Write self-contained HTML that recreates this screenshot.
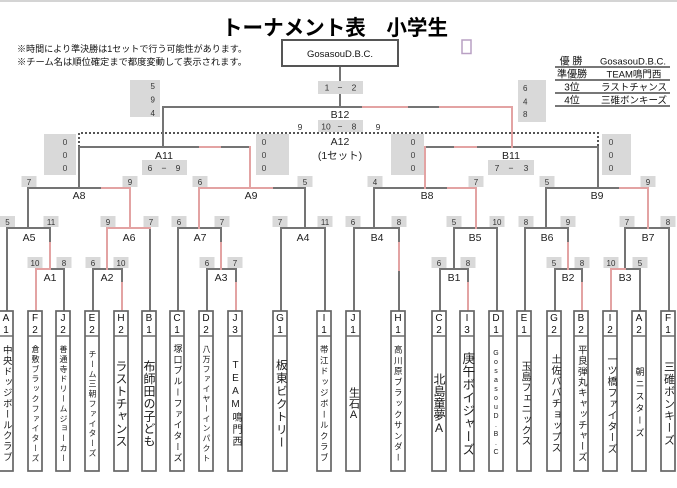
<!DOCTYPE html>
<html><head><meta charset="utf-8">
<style>
html,body{margin:0;padding:0;background:#fff;}
body{width:677px;height:488px;overflow:hidden;position:relative;font-family:"Liberation Sans","Noto Sans CJK JP",sans-serif;}
svg{position:absolute;left:0;top:0;}
.nm{position:absolute;top:337px;width:16px;height:134px;display:flex;align-items:center;justify-content:center;}
.nm span{writing-mode:vertical-rl;text-orientation:upright;line-height:1;color:#1a1a1a;white-space:nowrap;}
</style></head><body>
<svg width="677" height="488" viewBox="0 0 677 488" xmlns="http://www.w3.org/2000/svg" font-family="Liberation Sans, Noto Sans CJK JP, sans-serif">
<rect x="0" y="0" width="677" height="2" fill="#d4d4d4"/>
<!-- title -->
<text x="335" y="35" font-size="21" font-weight="bold" text-anchor="middle" textLength="226" lengthAdjust="spacingAndGlyphs" fill="#000">トーナメント表　小学生</text>
<text x="17" y="52" font-size="9" textLength="230" lengthAdjust="spacingAndGlyphs" fill="#111">※時間により準決勝は1セットで行う可能性があります。</text>
<text x="17" y="65" font-size="9" textLength="230" lengthAdjust="spacingAndGlyphs" fill="#111">※チーム名は順位確定まで都度変動して表示されます。</text>
<!-- purple square -->
<rect x="462" y="40" width="9" height="13.5" fill="none" stroke="#b9a0c4" stroke-width="1.5"/>
<!-- legend -->
<g stroke="#777" stroke-width="2">
<line x1="555" y1="67" x2="670" y2="67"/><line x1="555" y1="80" x2="670" y2="80"/>
<line x1="555" y1="93" x2="670" y2="93"/><line x1="555" y1="106" x2="670" y2="106"/>
</g>
<g font-size="10" text-anchor="middle" fill="#111">
<text x="571" y="64.5">優 勝</text><text x="572" y="77.5">準優勝</text>
<text x="572" y="90.5">3位</text><text x="572" y="103.5">4位</text>
</g>
<g font-size="9.5" text-anchor="middle" fill="#111">
<text x="633" y="64.5">GosasouD.B.C.</text><text x="634" y="77.5">TEAM鳴門西</text>
<text x="634" y="90.5">ラストチャンス</text><text x="634" y="103.5">三碓ボンキーズ</text>
</g>
<!-- gray info boxes -->
<g fill="#d9d9d9">
<rect x="130" y="80" width="30" height="37"/>
<rect x="518" y="80" width="28" height="42"/>
<rect x="44" y="134" width="32" height="41"/>
<rect x="256" y="134" width="33" height="41"/>
<rect x="391" y="134" width="33" height="41"/>
<rect x="602" y="134" width="29" height="41"/>
</g>
<g font-size="8" fill="#333">
<text x="155" y="89" text-anchor="end">5</text><text x="155" y="102.5" text-anchor="end">9</text><text x="155" y="116" text-anchor="end">4</text>
<text x="523" y="91">6</text><text x="523" y="104.5">4</text><text x="523" y="117">8</text>
</g>
<g font-size="8.5" fill="#444" text-anchor="middle">
<text x="65" y="145">0</text><text x="65" y="158">0</text><text x="65" y="171">0</text>
<text x="264" y="145">0</text><text x="264" y="158">0</text><text x="264" y="171">0</text>
<text x="413" y="145">0</text><text x="413" y="158">0</text><text x="413" y="171">0</text>
<text x="611" y="145">0</text><text x="611" y="158">0</text><text x="611" y="171">0</text>
</g>
<!-- dotted 3rd place -->
<path d="M79 147 V133 H598 V147" fill="none" stroke="#555" stroke-width="2" stroke-dasharray="2 2"/>
<!-- gray lines -->
<path fill="none" stroke="#747474" stroke-width="2" stroke-linecap="square" d="
M340 66 V107 M163 107 H363 M407 107 H440 M163 107 V147
M79 147 H200 M220 147 H250 M79 147 V188
M425 147 H455 M476 147 H598 M598 147 V188
M28 188 H102 M28 188 V228
M272 188 H305 M305 188 V228
M374 188 H448 M374 188 V228
M546 188 H620 M546 188 V228
M7 228 H50 M7 228 V310 M50 228 V243
M150 228 V310
M178 228 H221 M178 228 V310 M221 228 V243
M281 228 H325 M281 228 V310 M325 228 V310
M354 228 H399 M354 228 V310 M399 228 V243 M399 270 V310
M454 228 H497 M454 228 V269 M497 228 V310
M525 228 H568 M525 228 V310 M568 228 V243
M625 228 H669 M625 228 V269 M669 228 V310
M50 269 H64 M64 269 V310
M93 269 H122 M93 269 V310 M122 269 V283
M207 269 H236 M207 269 V310 M236 269 V283
M440 269 H468 M440 269 V310 M468 269 V283
M555 269 H582 M555 269 V310 M582 269 V283
M625 269 H640 M640 269 V310"/>
<!-- pink lines -->
<path fill="none" stroke="#e3a3a3" stroke-width="2" stroke-linecap="square" d="
M363 107 H407 M440 107 H512 M512 107 V147
M200 147 H220 M250 147 V188
M455 147 H476 M425 147 V188
M102 188 H130 M130 188 V228
M199 188 H272 M199 188 V228
M448 188 H476 M476 188 V228
M620 188 H648 M648 188 V228
M50 243 V269
M107 228 H150 M107 228 V269
M221 243 V269
M399 243 V270
M568 243 V269
M36 269 H50 M36 269 V310
M122 283 V310 M236 283 V310 M468 283 V310 M582 283 V310
M611 269 H625 M611 269 V310"/>
<!-- winner box -->
<rect x="282" y="40" width="116" height="26" fill="#fff" stroke="#555" stroke-width="2"/>
<text x="340" y="57" font-size="9.5" text-anchor="middle" fill="#111">GosasouD.B.C.</text>
<!-- final / 3rd scores -->
<rect x="318" y="81" width="45" height="13" fill="#d9d9d9"/>
<g font-size="8.5" fill="#333" text-anchor="middle">
<text x="327" y="90.5">1</text><text x="340" y="90.5">−</text><text x="354" y="90.5">2</text>
</g>
<rect x="318" y="120" width="45" height="12" fill="#d9d9d9"/>
<g font-size="8.5" fill="#333" text-anchor="middle">
<text x="326" y="129.5">10</text><text x="340" y="129.5">−</text><text x="354" y="129.5">8</text>
<text x="300" y="130">9</text><text x="378" y="130">9</text>
</g>
<rect x="142" y="160" width="45" height="15" fill="#d9d9d9"/>
<rect x="488" y="160" width="46" height="15" fill="#d9d9d9"/>
<g font-size="8.5" fill="#333" text-anchor="middle">
<text x="150" y="171">6</text><text x="164" y="171">−</text><text x="178" y="171">9</text>
<text x="497" y="171">7</text><text x="511" y="171">−</text><text x="526" y="171">3</text>
</g>
<!-- match labels -->
<g font-size="10.5" fill="#222" text-anchor="middle">
<text x="340" y="118">B12</text>
<text x="340" y="145">A12</text>
<text x="340" y="159">(1セット)</text>
<text x="164" y="159">A11</text><text x="511" y="159">B11</text>
<text x="79" y="199">A8</text><text x="251" y="199">A9</text><text x="427" y="199">B8</text><text x="597" y="199">B9</text>
<text x="29" y="241">A5</text><text x="129" y="241">A6</text><text x="200" y="241">A7</text><text x="303" y="241">A4</text>
<text x="377" y="241">B4</text><text x="475" y="241">B5</text><text x="547" y="241">B6</text><text x="648" y="241">B7</text>
<text x="50" y="281">A1</text><text x="107" y="281">A2</text><text x="221" y="281">A3</text>
<text x="454" y="281">B1</text><text x="568" y="281">B2</text><text x="625" y="281">B3</text>
</g>
<!-- small score boxes -->
<g fill="#d9d9d9">
<rect x="21.5" y="176" width="15" height="11"/><rect x="122.5" y="176" width="15" height="11"/>
<rect x="192.5" y="176" width="15" height="11"/><rect x="297.5" y="176" width="15" height="11"/>
<rect x="367.5" y="176" width="15" height="11"/><rect x="468.5" y="176" width="15" height="11"/>
<rect x="539.5" y="176" width="15" height="11"/><rect x="640.5" y="176" width="15" height="11"/>
<rect x="0" y="216" width="15" height="11"/><rect x="43.5" y="216" width="15" height="11"/>
<rect x="100.5" y="216" width="15" height="11"/><rect x="143.5" y="216" width="15" height="11"/>
<rect x="171.5" y="216" width="15" height="11"/><rect x="214.5" y="216" width="15" height="11"/>
<rect x="272.5" y="216" width="15" height="11"/><rect x="317.5" y="216" width="15" height="11"/>
<rect x="345.5" y="216" width="15" height="11"/><rect x="391.5" y="216" width="15" height="11"/>
<rect x="446.5" y="216" width="15" height="11"/><rect x="489.5" y="216" width="15" height="11"/>
<rect x="518.5" y="216" width="15" height="11"/><rect x="560.5" y="216" width="15" height="11"/>
<rect x="619.5" y="216" width="15" height="11"/><rect x="660.5" y="216" width="15" height="11"/>
<rect x="27.5" y="257" width="15" height="11"/><rect x="56.5" y="257" width="15" height="11"/>
<rect x="85.5" y="257" width="15" height="11"/><rect x="113.5" y="257" width="15" height="11"/>
<rect x="199.5" y="257" width="15" height="11"/><rect x="227.5" y="257" width="15" height="11"/>
<rect x="431.5" y="257" width="15" height="11"/><rect x="460.5" y="257" width="15" height="11"/>
<rect x="546.5" y="257" width="15" height="11"/><rect x="574.5" y="257" width="15" height="11"/>
<rect x="603.5" y="257" width="15" height="11"/><rect x="632.5" y="257" width="15" height="11"/>
</g>
<g font-size="8" fill="#333" text-anchor="middle">
<text x="29" y="185">7</text><text x="130" y="185">9</text><text x="200" y="185">6</text><text x="305" y="185">5</text>
<text x="375" y="185">4</text><text x="476" y="185">7</text><text x="547" y="185">5</text><text x="648" y="185">9</text>
<text x="7.5" y="225">5</text><text x="51" y="225">11</text><text x="108" y="225">9</text><text x="151" y="225">7</text>
<text x="179" y="225">6</text><text x="222" y="225">7</text><text x="280" y="225">7</text><text x="325" y="225">11</text>
<text x="353" y="225">6</text><text x="399" y="225">8</text><text x="454" y="225">5</text><text x="497" y="225">10</text>
<text x="526" y="225">8</text><text x="568" y="225">9</text><text x="627" y="225">7</text><text x="668" y="225">8</text>
<text x="35" y="266">10</text><text x="64" y="266">8</text><text x="93" y="266">6</text><text x="121" y="266">10</text>
<text x="207" y="266">6</text><text x="235" y="266">7</text><text x="439" y="266">6</text><text x="468" y="266">8</text>
<text x="554" y="266">5</text><text x="582" y="266">8</text><text x="611" y="266">10</text><text x="640" y="266">5</text>
</g>
<!-- leaf boxes -->
<g fill="#fff" stroke="#666" stroke-width="1.7">
<rect x="-1" y="311" width="14" height="160"/><rect x="28" y="311" width="14" height="160"/>
<rect x="56" y="311" width="14" height="160"/><rect x="85" y="311" width="14" height="160"/>
<rect x="114" y="311" width="14" height="160"/><rect x="142" y="311" width="14" height="160"/>
<rect x="170" y="311" width="14" height="160"/><rect x="199" y="311" width="14" height="160"/>
<rect x="228" y="311" width="14" height="160"/><rect x="273" y="311" width="14" height="160"/>
<rect x="317" y="311" width="14" height="160"/><rect x="346" y="311" width="14" height="160"/>
<rect x="391" y="311" width="14" height="160"/><rect x="432" y="311" width="14" height="160"/>
<rect x="460" y="311" width="14" height="160"/><rect x="489" y="311" width="14" height="160"/>
<rect x="517" y="311" width="14" height="160"/><rect x="547" y="311" width="14" height="160"/>
<rect x="574" y="311" width="14" height="160"/><rect x="603" y="311" width="14" height="160"/>
<rect x="632" y="311" width="14" height="160"/><rect x="661" y="311" width="14" height="160"/>
</g>
<g stroke="#666" stroke-width="1.4">
<line x1="-1" y1="336" x2="13" y2="336"/><line x1="28" y1="336" x2="42" y2="336"/>
<line x1="56" y1="336" x2="70" y2="336"/><line x1="85" y1="336" x2="99" y2="336"/>
<line x1="114" y1="336" x2="128" y2="336"/><line x1="142" y1="336" x2="156" y2="336"/>
<line x1="170" y1="336" x2="184" y2="336"/><line x1="199" y1="336" x2="213" y2="336"/>
<line x1="228" y1="336" x2="242" y2="336"/><line x1="273" y1="336" x2="287" y2="336"/>
<line x1="317" y1="336" x2="331" y2="336"/><line x1="346" y1="336" x2="360" y2="336"/>
<line x1="391" y1="336" x2="405" y2="336"/><line x1="432" y1="336" x2="446" y2="336"/>
<line x1="460" y1="336" x2="474" y2="336"/><line x1="489" y1="336" x2="503" y2="336"/>
<line x1="517" y1="336" x2="531" y2="336"/><line x1="547" y1="336" x2="561" y2="336"/>
<line x1="574" y1="336" x2="588" y2="336"/><line x1="603" y1="336" x2="617" y2="336"/>
<line x1="632" y1="336" x2="646" y2="336"/><line x1="661" y1="336" x2="675" y2="336"/>
</g>
<g font-size="10" fill="#111" text-anchor="middle">
<text x="6" y="321">A</text><text x="6" y="333">1</text>
<text x="35" y="321">F</text><text x="35" y="333">2</text>
<text x="63" y="321">J</text><text x="63" y="333">2</text>
<text x="92" y="321">E</text><text x="92" y="333">2</text>
<text x="121" y="321">H</text><text x="121" y="333">2</text>
<text x="149" y="321">B</text><text x="149" y="333">1</text>
<text x="177" y="321">C</text><text x="177" y="333">1</text>
<text x="206" y="321">D</text><text x="206" y="333">2</text>
<text x="235" y="321">J</text><text x="235" y="333">3</text>
<text x="280" y="321">G</text><text x="280" y="333">1</text>
<text x="324" y="321">I</text><text x="324" y="333">1</text>
<text x="353" y="321">J</text><text x="353" y="333">1</text>
<text x="398" y="321">H</text><text x="398" y="333">1</text>
<text x="439" y="321">C</text><text x="439" y="333">2</text>
<text x="467" y="321">I</text><text x="467" y="333">3</text>
<text x="496" y="321">D</text><text x="496" y="333">1</text>
<text x="524" y="321">E</text><text x="524" y="333">1</text>
<text x="554" y="321">G</text><text x="554" y="333">2</text>
<text x="581" y="321">B</text><text x="581" y="333">2</text>
<text x="610" y="321">I</text><text x="610" y="333">2</text>
<text x="639" y="321">A</text><text x="639" y="333">2</text>
<text x="668" y="321">F</text><text x="668" y="333">1</text>
</g>
</svg>
<div class="nm" style="left:-2px"><span style="font-size:9.5px;letter-spacing:1.2px">中央ドッジボールクラブ</span></div>
<div class="nm" style="left:27px"><span style="font-size:8px;letter-spacing:1.9px">倉敷ブラックファイターズ</span></div>
<div class="nm" style="left:55px"><span style="font-size:8px;letter-spacing:1.9px">善通寺ドリームジョーカー</span></div>
<div class="nm" style="left:84px"><span style="font-size:8px;letter-spacing:1.9px">チーム三朝ファイターズ</span></div>
<div class="nm" style="left:113px"><span style="font-size:12px;letter-spacing:0.5px">ラストチャンス</span></div>
<div class="nm" style="left:141px"><span style="font-size:12px;letter-spacing:0.5px">布師田の子ども</span></div>
<div class="nm" style="left:169px"><span style="font-size:9px;letter-spacing:1.9px">塚口ブルーファイターズ</span></div>
<div class="nm" style="left:198px"><span style="font-size:8px;letter-spacing:1.9px">八万ファイヤーインパクト</span></div>
<div class="nm" style="left:227px"><span style="font-size:10px;letter-spacing:2px">TEAM鳴門西</span></div>
<div class="nm" style="left:272px"><span style="font-size:11.5px;letter-spacing:1.4px">板東ビクトリー</span></div>
<div class="nm" style="left:316px"><span style="font-size:8.5px;letter-spacing:2.3px">帯江ドッジボールクラブ</span></div>
<div class="nm" style="left:345px"><span style="font-size:11px;letter-spacing:0px">生石A</span></div>
<div class="nm" style="left:390px"><span style="font-size:8.5px;letter-spacing:2.3px">高川原ブラックサンダー</span></div>
<div class="nm" style="left:431px"><span style="font-size:12px;letter-spacing:0px">北島童夢A</span></div>
<div class="nm" style="left:459px"><span style="font-size:12.5px;letter-spacing:0.5px">庚午ボイジャーズ</span></div>
<div class="nm" style="left:488px"><span style="font-size:7px;letter-spacing:2px">GosasouD.B.C</span></div>
<div class="nm" style="left:516px"><span style="font-size:10px;letter-spacing:0.7px">玉島フェニックス</span></div>
<div class="nm" style="left:546px"><span style="font-size:10px;letter-spacing:1.1px">土佐ババチョップス</span></div>
<div class="nm" style="left:573px"><span style="font-size:9.5px;letter-spacing:1.2px">平良弾丸キャッチャーズ</span></div>
<div class="nm" style="left:602px"><span style="font-size:10px;letter-spacing:1.2px">一ツ橋ファイターズ</span></div>
<div class="nm" style="left:631px"><span style="font-size:9px;letter-spacing:3.2px">朝ニスターズ</span></div>
<div class="nm" style="left:660px"><span style="font-size:11px;letter-spacing:1.2px">三碓ボンキーズ</span></div>
</body></html>
